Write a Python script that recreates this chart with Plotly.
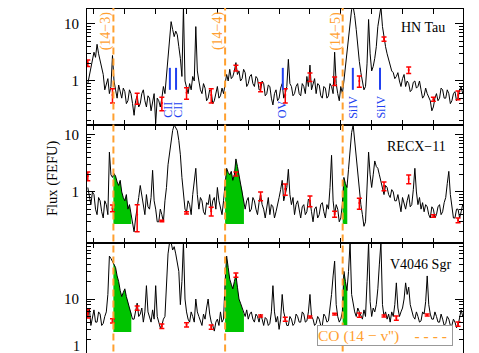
import numpy as np
import plotly.graph_objects as go
from plotly.subplots import make_subplots

# ---------------- data ----------------
wave = np.arange(1308.0, 1430.0, 0.5)  # Angstrom grid, 244 samples

flux_hn_tau = [
    0.9, 1.2, 1.6, 2.4, 3.2, 2.6, 4.4, 3.0, 2.2, 1.6,
    1.3, 0.7, 0.9, 1.1, 0.6, 0.8, 2.8, 1.0, 0.7, 0.5,
    0.85, 0.6, 0.5, 0.75, 0.65, 0.4, 0.45, 0.7, 0.6, 0.4,
    0.25, 0.45, 0.55, 0.35, 0.4, 0.6, 0.7, 0.45, 0.35, 0.55,
    0.5, 0.3, 0.4, 0.6, 0.18, 0.5, 0.45, 0.35, 0.5, 0.8,
    0.6, 1.2, 3.0, 6.0, 11.0, 8.0, 6.0, 7.5, 6.5, 4.0,
    2.5, 1.2, 20.0, 1.0, 0.8, 0.6, 0.9, 0.7, 1.2, 1.0,
    9.0, 1.5, 1.0, 0.7, 0.6, 0.9, 0.75, 0.45, 0.5, 0.7,
    0.65, 0.4, 0.45, 0.6, 0.8, 0.5, 0.55, 0.75, 0.6, 0.9,
    1.3, 1.0, 1.6, 1.1, 1.2, 1.5, 2.1, 1.3, 1.5, 1.0,
    1.1, 1.6, 1.4, 0.8, 0.9, 1.2, 1.3, 0.9, 0.8, 1.2,
    1.1, 0.7, 0.7, 1.0, 0.9, 0.55, 0.6, 0.85, 0.8, 0.5,
    0.38, 0.6, 0.7, 0.45, 0.5, 0.75, 0.9, 0.5, 0.6, 0.8,
    2.4, 0.9, 0.8, 0.55, 0.6, 0.8, 0.9, 0.6, 0.55, 0.9,
    0.8, 0.6, 1.2, 0.8, 1.9, 0.7, 0.9, 1.1, 0.6, 0.9,
    0.85, 0.55, 0.5, 0.8, 0.75, 0.5, 0.55, 0.9, 0.8, 0.6,
    3.2, 0.9, 0.6, 0.45, 0.8, 0.6, 1.0, 1.8, 3.5, 6.0,
    12.0, 18.0, 20.0, 14.0, 8.0, 4.0, 2.2, 1.4, 0.9, 0.7,
    0.8, 2.0, 12.0, 3.0, 1.5, 1.8, 2.5, 4.0, 9.0, 14.0,
    20.0, 9.0, 5.5, 4.0, 3.0, 2.4, 1.8, 1.5, 1.4, 1.1,
    1.2, 1.4, 1.0, 0.8, 1.1, 1.3, 0.8, 1.0, 0.9, 0.65,
    0.7, 0.95, 1.0, 0.75, 0.8, 1.0, 0.7, 0.5, 0.55, 0.75,
    0.6, 0.5, 0.45, 0.3, 0.35, 0.5, 0.6, 0.45, 0.5, 0.75,
    0.7, 0.5, 0.5, 0.7, 0.6, 0.4, 0.45, 0.6, 0.65, 0.45,
    0.5, 0.7, 0.8, 0.6,
]

flux_recx11 = [
    1.2, 0.8, 0.6, 1.0, 0.9, 0.5, 0.4, 0.8, 0.7, 0.45,
    0.35, 0.7, 0.6, 0.4, 5.0, 2.0, 1.8, 2.1, 1.9, 1.5,
    1.3, 1.6, 1.0, 0.8, 0.7, 0.9, 0.5, 0.6, 0.4, 0.3,
    0.2, 0.35, 0.5, 0.8, 1.3, 0.9, 0.6, 0.4, 0.9, 0.55,
    0.5, 0.8, 2.4, 0.7, 0.5, 0.3, 0.3, 0.5, 0.4, 0.3,
    0.7, 1.2, 3.0, 5.0, 9.0, 12.0, 15.0, 13.0, 12.0, 8.0,
    4.5, 1.8, 0.8, 0.5, 0.45, 0.7, 0.6, 0.4, 0.9, 1.4,
    2.6, 0.9, 0.5, 0.8, 0.7, 0.45, 0.4, 0.65, 0.6, 0.9,
    0.45, 0.7, 0.8, 0.5, 1.2, 0.7, 0.5, 0.4, 0.7, 1.2,
    2.6, 2.2, 2.0, 2.3, 1.6, 2.0, 3.8, 2.8, 2.0, 1.4,
    1.1, 0.7, 0.5, 0.7, 0.8, 0.45, 0.5, 0.8, 0.7, 0.5,
    0.4, 0.65, 0.9, 0.6, 0.5, 0.35, 0.6, 0.8, 0.4, 0.6,
    0.55, 0.35, 0.45, 0.65, 0.8, 1.1, 1.6, 0.7, 0.9, 1.2,
    2.5, 0.9, 0.6, 0.8, 0.4, 0.6, 0.7, 0.5, 0.35, 0.55,
    0.6, 0.4, 0.45, 0.75, 0.7, 0.45, 0.3, 0.5, 0.55, 0.35,
    0.4, 0.6, 0.65, 0.45, 0.35, 0.6, 0.5, 1.2, 4.4, 0.7,
    0.4, 0.6, 0.5, 0.3, 0.35, 0.6, 1.8, 1.4, 1.2, 2.5,
    6.0, 11.0, 15.0, 8.0, 4.0, 1.8, 0.9, 0.6, 0.4, 0.25,
    0.3, 1.2, 5.0, 2.0, 1.2, 2.0, 3.5, 2.8, 2.6, 2.0,
    1.5, 1.1, 0.9, 1.3, 1.2, 0.9, 0.8, 1.1, 1.0, 0.7,
    0.7, 0.9, 0.6, 0.45, 0.8, 0.6, 0.5, 0.7, 0.9, 0.55,
    0.6, 1.1, 2.6, 1.0, 0.6, 0.8, 0.5, 0.65, 0.45, 0.6,
    0.55, 0.4, 0.35, 0.55, 0.5, 0.35, 0.4, 0.55, 0.6, 0.4,
    0.45, 0.65, 0.8, 1.4, 2.3, 0.9, 0.5, 0.35, 0.35, 0.5,
    0.5, 0.35, 0.45, 0.6,
]

flux_v4046 = [
    5.0, 7.0, 3.5, 4.5, 6.5, 4.0, 4.0, 6.0, 5.5, 3.5,
    3.8, 5.0, 6.0, 12.0, 55.0, 50.0, 45.0, 40.0, 35.0, 25.0,
    20.0, 14.0, 11.0, 13.0, 15.0, 11.0, 9.0, 7.0, 6.0, 4.5,
    4.5, 6.0, 8.5, 5.0, 5.5, 7.0, 4.0, 6.0, 17.0, 6.0,
    5.0, 4.0, 6.5, 4.5, 17.0, 5.0, 4.0, 3.2, 3.5, 4.5,
    5.0, 15.0, 60.0, 95.0, 95.0, 70.0, 80.0, 60.0, 45.0, 30.0,
    8.0, 20.0, 95.0, 10.0, 6.0, 4.5, 4.0, 6.0, 5.0, 4.0,
    10.0, 6.0, 5.0, 4.0, 3.5, 5.5, 4.5, 7.0, 10.0, 5.5,
    4.0, 3.5, 2.8, 4.0, 4.5, 3.5, 6.0, 4.0, 4.5, 20.0,
    55.0, 35.0, 22.0, 18.0, 15.0, 20.0, 26.0, 16.0, 10.0, 8.5,
    7.0, 5.5, 5.0, 6.5, 4.5, 5.5, 6.0, 4.5, 4.0, 5.5,
    5.0, 4.0, 5.5, 4.5, 3.5, 4.8, 4.5, 3.5, 3.8, 6.0,
    17.0, 6.0, 4.0, 5.0, 3.0, 4.5, 12.0, 6.0, 4.5, 3.5,
    3.5, 5.0, 4.5, 3.5, 3.8, 5.5, 5.0, 4.0, 4.0, 6.0,
    5.5, 4.0, 4.2, 6.0, 12.0, 5.0, 4.5, 3.5, 3.8, 5.0,
    4.5, 3.5, 3.5, 5.5, 5.0, 4.0, 4.2, 6.5, 12.0, 25.0,
    45.0, 8.0, 5.0, 4.0, 4.5, 6.0, 30.0, 20.0, 14.0, 30.0,
    95.0, 12.0, 8.0, 6.0, 5.0, 7.0, 6.0, 5.0, 4.5, 6.5,
    5.0, 20.0, 95.0, 9.0, 5.0, 7.0, 6.0, 8.0, 15.0, 40.0,
    95.0, 8.0, 5.0, 6.0, 4.5, 5.5, 4.0, 6.0, 5.0, 8.0,
    19.0, 7.0, 5.0, 6.0, 7.0, 10.0, 19.0, 12.0, 16.0, 8.0,
    6.0, 5.0, 4.5, 6.0, 5.0, 4.0, 4.2, 6.0, 5.5, 9.0,
    25.0, 8.0, 5.5, 4.5, 4.5, 6.0, 5.0, 4.0, 4.0, 5.5,
    4.5, 3.5, 3.8, 5.0, 4.5, 3.5, 3.5, 4.5, 4.0, 3.2,
    3.5, 5.0, 6.5, 5.0,
]

# continuum points with error bars (red)
pt_wave = [1308, 1316, 1324, 1332, 1340, 1348, 1356, 1364,
           1372, 1380, 1388, 1396, 1404, 1412, 1420, 1428]
pt_hn_tau = [2.07, 0.57, 0.50, 0.41, 0.62, 0.57, 1.69, 0.79,
             0.57, 1.18, 1.0, 1.0, 5.45, 1.56, 0.48, 0.57]
err_hn_tau = [0.27, 0.16, 0.11, 0.11, 0.14, 0.16, 0.2, 0.14,
              0.16, 0.2, 0.17, 0.22, 0.45, 0.2, 0.04, 0.1]
pt_recx11 = [1.91, 0.52, 0.40, 0.31, 0.43, 0.46, 2.07, 0.85,
             1.13, 0.70, 0.41, 0.64, 1.27, 1.69, 0.38, 0.32]
err_recx11 = [0.33, 0.07, 0.2, 0.01, 0.02, 0.08, 0.17, 0.15,
              0.25, 0.15, 0.05, 0.14, 0.22, 0.3, 0.02, 0.03]
pt_wave_v4046 = [1308, 1316, 1324, 1332, 1340, 1348, 1356, 1364,
                 1372, 1380, 1388, 1396, 1404, 1408, 1418, 1428]
pt_v4046 = [5.7, 4.2, 7.0, 3.4, 3.6, 3.3, 26.0, 5.1,
            4.5, 4.9, 5.5, 5.3, 5.1, 4.7, 5.3, 3.7]
err_v4046 = [1.0, 0.35, 0.6, 0.3, 0.3, 0.28, 2.2, 0.2,
             0.37, 0.2, 0.2, 0.45, 0.2, 0.4, 0.2, 0.3]

# CO (14 - v'') band heads and the shaded band extents
co_band_wave = [1316.3, 1352.5, 1390.6]
co_band_end = [1322.1, 1358.6, 1392.1]
co_band_label = ["(14−3)", "(14−4)", "(14−5)"]
fill_base_recx11 = 0.275
fill_base_v4046 = 2.7

# hot-gas emission lines marked in HN Tau
ion_wave = [1334.6, 1336.6, 1371.2, 1393.9, 1402.7]
ion_label_wave = [1334.0, 1337.2, 1371.0, 1393.9, 1402.9]
ion_label = ["CII", "CII", "OV", "SiIV", "SiIV"]
ion_bar_top = 1.7
ion_bar_bottom = 0.7

panel_names = ["HN Tau", "RECX−11", "V4046 Sgr"]
legend_text = "CO (14 − v'')"

# ---------------- styling ----------------
SERIF = "Liberation Serif, Times New Roman, serif"
ORANGE = "#FFA030"
GREEN = "#00C400"
RED = "#FF0000"
BLUE = "#2040F0"
X_RANGE = [1307.74, 1429.6]
Y_RANGES = [[-0.772, 1.263], [-0.895, 1.175], [-0.034, 1.966]]
DOMAINS = [[0.6686, 1.0], [0.3314, 0.6686], [0.0, 0.3314]]

fig = make_subplots(rows=3, cols=1, shared_xaxes=True, vertical_spacing=0)

spectra = [flux_hn_tau, flux_recx11, flux_v4046]
points = [(pt_wave, pt_hn_tau, err_hn_tau),
          (pt_wave, pt_recx11, err_recx11),
          (pt_wave_v4046, pt_v4046, err_v4046)]
bases = [None, fill_base_recx11, fill_base_v4046]

for i in range(3):
    row = i + 1
    flux = np.array(spectra[i])
    # green shaded CO bands
    if bases[i] is not None:
        for lo, hi in zip(co_band_wave, co_band_end):
            inside = (wave > lo) & (wave < hi)
            xs = np.concatenate([[lo], wave[inside], [hi]])
            ys = np.concatenate([[np.interp(lo, wave, flux)], flux[inside],
                                 [np.interp(hi, wave, flux)]])
            fig.add_trace(go.Scatter(
                x=np.concatenate([xs, xs[::-1]]),
                y=np.concatenate([ys, np.full(len(xs), bases[i])]),
                fill="toself", fillcolor=GREEN, mode="none",
                showlegend=False, hoverinfo="skip"), row=row, col=1)
    # spectrum
    fig.add_trace(go.Scatter(x=wave, y=flux, mode="lines",
                             line=dict(color="black", width=1),
                             showlegend=False), row=row, col=1)
    # red continuum points
    px_, py_, pe_ = points[i]
    fig.add_trace(go.Scatter(
        x=px_, y=py_, mode="markers",
        marker=dict(size=2, color=RED),
        error_y=dict(type="data", array=pe_, color=RED, thickness=1.5, width=2.5),
        showlegend=False), row=row, col=1)

# blue ion markers in HN Tau panel
for w in ion_wave:
    fig.add_trace(go.Scatter(x=[w, w], y=[ion_bar_bottom, ion_bar_top], mode="lines",
                             line=dict(color=BLUE, width=2), showlegend=False),
                  row=1, col=1)

ann = []
shapes = []

# axes
for i in range(3):
    xa = "xaxis" if i == 0 else f"xaxis{i+1}"
    ya = "yaxis" if i == 0 else f"yaxis{i+1}"
    lo_exp = int(np.floor(Y_RANGES[i][0]))
    hi_exp = int(np.ceil(Y_RANGES[i][1]))
    minor_vals = [m * 10.0 ** e for e in range(lo_exp, hi_exp) for m in range(2, 10)]
    tvals = [1, 10] if i < 2 else [1, 10]
    ttext = ["1", "10"] if i < 2 else ["", "10"]
    fig.update_layout(**{
        xa: dict(range=X_RANGE, showticklabels=False, ticks="inside", ticklen=5,
                 tick0=1310, dtick=10, tickcolor="black", mirror="ticks",
                 showline=True, linecolor="black", linewidth=1, showgrid=False,
                 zeroline=False),
        ya: dict(type="log", range=Y_RANGES[i], domain=DOMAINS[i],
                 tickvals=tvals, ticktext=ttext, ticks="inside", ticklen=8,
                 tickcolor="black", mirror="ticks", showline=True, linecolor="black",
                 linewidth=1, showgrid=False, zeroline=False,
                 tickfont=dict(family=SERIF, size=15, color="black"),
                 ticklabelstandoff=4,
                 minor=dict(ticks="inside", ticklen=4, tickcolor="black",
                            tickvals=minor_vals, showgrid=False)),
    })

# bottom panel "1" label, kept fully inside the picture
ann.append(dict(x=-0.012, y=0.008, xref="paper", yref="paper", text="1",
                xanchor="right", yanchor="bottom", showarrow=False,
                font=dict(family=SERIF, size=14, color="black")))

# orange CO band lines spanning all panels + labels
for w, lab in zip(co_band_wave, co_band_label):
    shapes.append(dict(type="line", xref="x", yref="paper", x0=w, x1=w,
                       y0=-0.01, y1=1.01,
                       line=dict(color=ORANGE, width=2, dash="7px,4px")))
    ann.append(dict(x=w - 2.3, y=0.937, xref="x", yref="paper", text=lab,
                    textangle=-90, showarrow=False, xanchor="center", yanchor="middle",
                    font=dict(family=SERIF, size=14, color=ORANGE)))

# ion labels
ion_label_y = [0.712, 0.712, 0.714, 0.72, 0.72]
for w, lab, yy in zip(ion_label_wave, ion_label, ion_label_y):
    ann.append(dict(x=w, y=yy, xref="x", yref="paper", text=lab, textangle=-90,
                    showarrow=False, xanchor="center", yanchor="middle",
                    font=dict(family=SERIF, size=12, color=BLUE)))

# panel names
name_pos = [(0.894, 0.946), (0.875, 0.606), (0.886, 0.269)]
for name, (xx, yy) in zip(panel_names, name_pos):
    ann.append(dict(x=xx, y=yy, xref="paper", yref="paper", text=name,
                    showarrow=False, xanchor="center", yanchor="middle",
                    font=dict(family=SERIF, size=14, color="black")))

# y title
ann.append(dict(x=-0.093, y=0.517, xref="paper", yref="paper", text="Flux (FEFU)",
                textangle=-90, showarrow=False, xanchor="center", yanchor="middle",
                font=dict(family=SERIF, size=14.5, color="black")))

# legend box (bottom right)
ann.append(dict(x=0.612, y=0.067, xref="paper", yref="paper",
                text=legend_text + "&nbsp;&nbsp;&nbsp;&nbsp;<b>- - - -</b>",
                xanchor="left", yanchor="middle", align="left",
                width=134, height=19, bgcolor="white", bordercolor="#999999",
                borderwidth=1, borderpad=0, showarrow=False,
                font=dict(family=SERIF, size=15.5, color=ORANGE)))

fig.update_layout(width=479, height=353, margin=dict(l=79, r=24, t=1, b=2),
                  paper_bgcolor="white", plot_bgcolor="white",
                  annotations=ann, shapes=shapes, showlegend=False)

fig.write_html("out.html")
